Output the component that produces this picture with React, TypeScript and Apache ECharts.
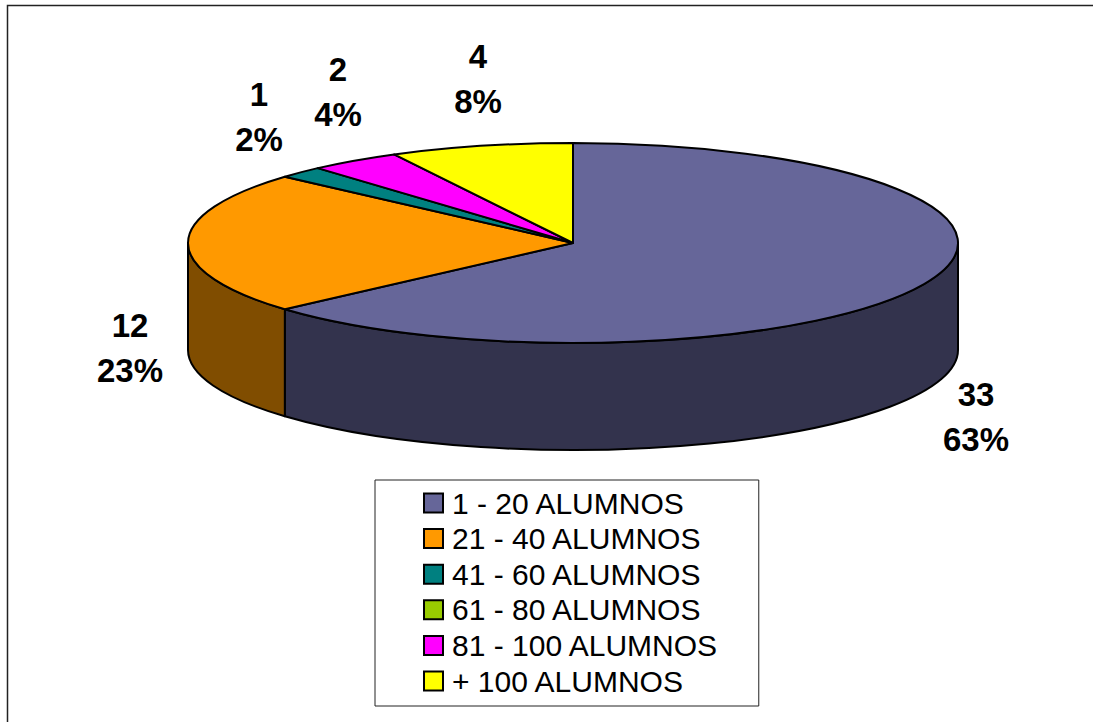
import React, { useEffect, useRef } from "react";
import * as echarts from "echarts";

const categories = ["1 - 20 ALUMNOS", "21 - 40 ALUMNOS", "41 - 60 ALUMNOS", "61 - 80 ALUMNOS", "81 - 100 ALUMNOS", "+ 100 ALUMNOS"];
const values = [33, 12, 1, 0, 2, 4];
const topColors = ["#666699", "#FF9900", "#008080", "#99CC00", "#FF00FF", "#FFFF00"];
const sideColors = ["#33334D", "#804D00", "#004040", "#4D6600", "#800080", "#808000"];
const labelCentres = [[976, 417], [130, 348], [259, 117], [0, 0], [338, 92], [478, 79]];

const CX = 573, CY = 243, RX = 385, RY = 100, DEPTH = 107;
const total = values.reduce((a, b) => a + b, 0);
const rad = (v: number) => (v / total) * Math.PI * 2;
const pt = (t: number, dy = 0) => [CX + RX * Math.sin(t), CY - RY * Math.cos(t) + dy];

function arcTo(t0: number, t1: number, dy: number, sweep: number) {
  const [x, y] = pt(t1, dy);
  const large = Math.abs(t1 - t0) > Math.PI ? 1 : 0;
  return `A${RX} ${RY} 0 ${large} ${sweep} ${x} ${y}`;
}

function makeRender(index: number) {
  return (_p: any, api: any) => {
    const value = api.value(0);
    const before = api.value(1);
    const children: any[] = [];
    if (value > 0) {
      const a = rad(before);
      const b = rad(before + value);
      const wa = Math.max(a, Math.PI / 2);
      const wb = Math.min(b, (Math.PI * 3) / 2);
      const stroke = { stroke: "#000", lineWidth: 2, lineJoin: "round" };
      if (wb > wa) {
        const [x0, y0] = pt(wa);
        const [x1, y1] = pt(wb, DEPTH);
        children.push({
          type: "path",
          shape: { pathData: `M${x0} ${y0}${arcTo(wa, wb, 0, 1)}L${x1} ${y1}${arcTo(wb, wa, DEPTH, 0)}Z` },
          style: { fill: sideColors[index], ...stroke },
        });
      }
      const [sx, sy] = pt(a);
      children.push({
        type: "path",
        shape: { pathData: `M${CX} ${CY}L${sx} ${sy}${arcTo(a, b, 0, 1)}Z` },
        style: { fill: topColors[index], ...stroke },
      });
      const [lx, ly] = labelCentres[index];
      children.push({
        type: "text",
        x: lx,
        y: ly,
        style: {
          text: `${value}\n${Math.round((value / total) * 100)}%`,
          fill: "#000",
          font: "bold 33px 'Liberation Sans', Arial, sans-serif",
          lineHeight: 45,
          align: "center",
          verticalAlign: "middle",
        },
      });
    }
    return { type: "group", children };
  };
}

export default function App() {
  const ref = useRef<HTMLDivElement>(null);
  useEffect(() => {
    const chart = echarts.init(ref.current!, undefined, { renderer: "svg" });
    let cum = 0;
    const series = categories.map((name, i) => {
      const before = cum;
      cum += values[i];
      return {
        type: "custom",
        name,
        coordinateSystem: "none",
        silent: true,
        itemStyle: { color: topColors[i], borderColor: "#000", borderWidth: 2 },
        data: [[values[i], before]],
        renderItem: makeRender(i),
      };
    });
    chart.setOption({
      animation: false,
      backgroundColor: "#fff",
      graphic: [
        {
          type: "rect",
          shape: { x: 7.5, y: 5.5, width: 1200, height: 800 },
          style: { fill: "none", stroke: "#222", lineWidth: 1.5 },
          silent: true,
        },
      ],
      legend: {
        left: 375,
        top: 480,
        orient: "vertical",
        align: "left",
        selectedMode: false,
        backgroundColor: "#fff",
        borderColor: "#222",
        borderWidth: 1,
        padding: [8, 40, 10, 48],
        itemWidth: 19,
        itemHeight: 19,
        itemGap: 5.6,
        icon: "rect",
        data: categories,
        textStyle: { fontFamily: "'Liberation Sans', Arial, sans-serif", fontSize: 30, color: "#000", lineHeight: 29, padding: [0, 0, 0, 4] },
      },
      series,
    });
    return () => chart.dispose();
  }, []);
  return <div ref={ref} style={{ position: "absolute", left: 0, top: 0, width: 1093, height: 722 }} />;
}
